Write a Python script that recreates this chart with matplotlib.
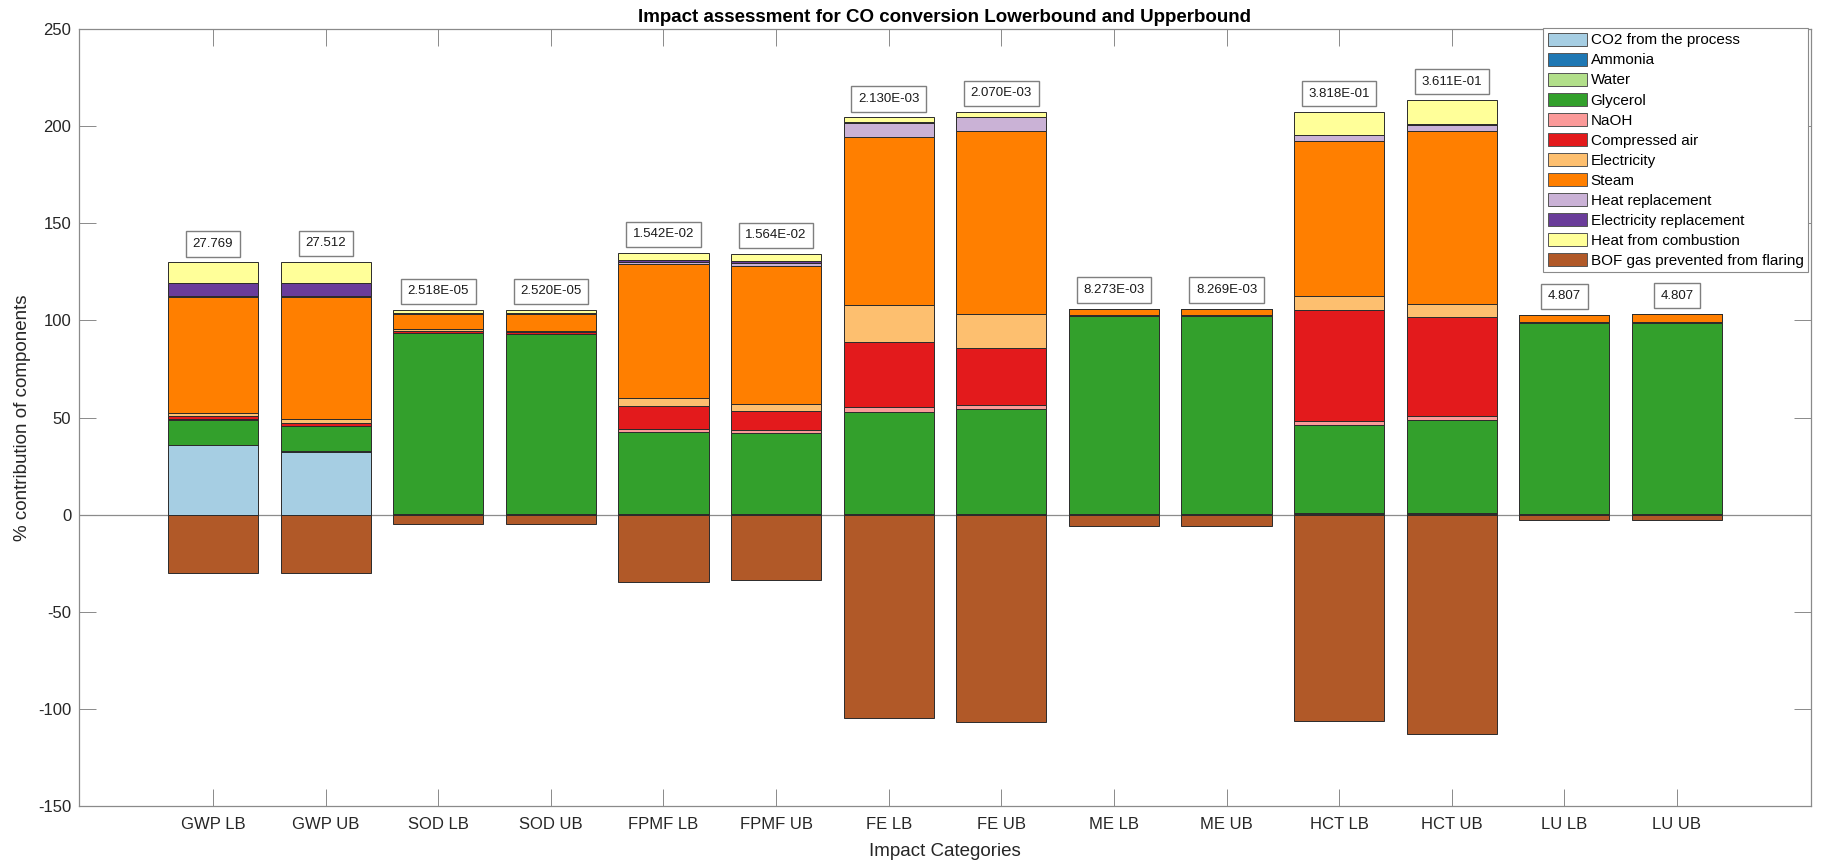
import matplotlib
matplotlib.use("Agg")
import matplotlib.pyplot as plt
import numpy as np

plt.rcParams['font.family'] = ['Liberation Sans', 'DejaVu Sans']
plt.rcParams['axes.unicode_minus'] = False

categories = ["GWP LB", "GWP UB", "SOD LB", "SOD UB", "FPMF LB", "FPMF UB",
              "FE LB", "FE UB", "ME LB", "ME UB", "HCT LB", "HCT UB", "LU LB", "LU UB"]

# Contribution of each component (%) per impact category
co2_process   = [35.6, 32.2, 0, 0, 0, 0, 0, 0, 0, 0, 0, 0, 0, 0]
ammonia       = [0.2, 0.3, 0.2, 0.2, 0.2, 0.2, 0.2, 0.2, 0.1, 0.1, 0.5, 0.5, 0.1, 0.1]
water         = [0.1, 0.1, 0.1, 0.1, 0.1, 0.1, 0.1, 0.1, 0.1, 0.1, 0.1, 0.1, 0.1, 0.1]
glycerol      = [12.9, 12.9, 93.1, 92.6, 42.4, 41.7, 52.7, 54.0, 102.1, 102.3, 45.7, 48.2, 98.5, 98.7]
naoh          = [0.3, 0.3, 0.3, 0.3, 1.5, 1.7, 2.4, 2.3, 0.2, 0.1, 1.7, 2.1, 0.1, 0.1]
compressed_air = [1.6, 1.4, 0.8, 0.8, 11.8, 9.9, 33.4, 29.3, 0.3, 0.1, 57.1, 50.6, 0.1, 0.1]
electricity   = [1.7, 1.8, 1.0, 0.7, 4.2, 3.5, 19.2, 17.4, 0.2, 0.2, 7.3, 7.0, 0.2, 0.2]
steam         = [59.6, 63.1, 7.6, 8.4, 68.8, 70.9, 86.5, 94.1, 2.6, 2.7, 79.9, 88.9, 3.6, 3.8]
heat_repl     = [0.5, 0.5, 0.3, 0.3, 1.2, 1.6, 7.0, 7.1, 0.1, 0.1, 3.0, 3.4, 0.1, 0.1]
elec_repl     = [6.5, 6.6, 0.5, 0.5, 0.8, 0.8, 0.4, 0.3, 0.3, 0.3, 0.2, 0.2, 0.0, 0.0]
heat_combust  = [10.8, 10.9, 1.5, 1.5, 3.9, 3.8, 2.6, 2.7, 0.1, 0.1, 11.7, 12.4, 0.1, 0.1]
bof_flaring   = [-29.8, -29.8, -4.8, -4.8, -34.5, -33.8, -104.5, -106.9, -6.0, -6.0,
                 -106.3, -112.9, -2.9, -2.6]

# Total impact score of each category
totals = [27.769, 27.512, 2.518e-05, 2.520e-05, 1.542e-02, 1.564e-02, 2.130e-03,
          2.070e-03, 8.273e-03, 8.269e-03, 3.818e-01, 3.611e-01, 4.807, 4.807]

labels = ["CO2 from the process", "Ammonia", "Water", "Glycerol", "NaOH",
          "Compressed air", "Electricity", "Steam", "Heat replacement",
          "Electricity replacement", "Heat from combustion",
          "BOF gas prevented from flaring"]
series = [co2_process, ammonia, water, glycerol, naoh, compressed_air, electricity,
          steam, heat_repl, elec_repl, heat_combust, bof_flaring]
colors = ["#a6cee3", "#1f78b4", "#b2df8a", "#33a02c", "#fb9a99", "#e31a1c",
          "#fdbf6f", "#ff7f00", "#cab2d6", "#6a3d9a", "#ffff99", "#b15928"]

W, H = 1827, 863
fig = plt.figure(figsize=(W / 100, H / 100), dpi=100)
ax = fig.add_axes([79 / W, 1 - 806 / H, (1811 - 79) / W, (806 - 29) / H])

x = np.arange(1, len(categories) + 1)
pos_base = np.zeros(len(x))
neg_base = np.zeros(len(x))
for vals, lab, col in zip(series, labels, colors):
    v = np.asarray(vals, dtype=float)
    bottoms = np.where(v >= 0, pos_base, neg_base)
    ax.bar(x, v, width=0.8, bottom=bottoms, color=col, edgecolor="#2b2b2b",
           linewidth=0.7, label=lab, zorder=2)
    pos_base += np.where(v >= 0, v, 0)
    neg_base += np.where(v < 0, v, 0)

ax.axhline(0, color="#8c8c8c", linewidth=0.9, zorder=1)

# Total score boxes above each stacked bar
for xi, top, tot in zip(x, pos_base, totals):
    txt = f"{tot:.3f}" if tot >= 1 else f"{tot:.3E}"
    ax.text(xi, top + 9.5, txt, ha="center", va="center", fontsize=9.5,
            color="#1a1a1a", zorder=4,
            bbox=dict(boxstyle="square,pad=0.5", facecolor="white",
                      edgecolor="#7f7f7f", linewidth=1.0))

ax.set_xlim(-0.19, 15.19)
ax.set_ylim(-150, 250)
ax.set_yticks(np.arange(-150, 251, 50))
ax.set_xticks(x)
ax.set_xticklabels(categories)

for sp in ax.spines.values():
    sp.set_color("#8a8a8a")
    sp.set_linewidth(0.9)
ax.tick_params(direction="in", length=12, width=0.7, color="#8a8a8a",
               labelsize=12, labelcolor="#262626", top=True, right=True)
ax.tick_params(axis="x", pad=8)
ax.tick_params(axis="y", pad=5.5)

ax.set_xlabel("Impact Categories", fontsize=13.5, color="#262626", labelpad=8)
ax.set_ylabel("% contribution of components", fontsize=13.5, color="#262626",
              labelpad=5)
ax.set_title("Impact assessment for CO conversion Lowerbound and Upperbound",
             fontsize=13.5, fontweight="bold", color="black", pad=5)

leg = ax.legend(loc="upper right", bbox_to_anchor=(1808 / W, 1 - 28 / H),
                bbox_transform=fig.transFigure, fontsize=11, frameon=True,
                fancybox=False, edgecolor="#8a8a8a", framealpha=1,
                borderaxespad=0, handlelength=2.6, handleheight=0.95,
                handletextpad=0.2, labelspacing=0.34, borderpad=0.3)
leg.get_frame().set_linewidth(0.8)
for h in leg.legend_handles:
    h.set_edgecolor("#555555")

fig.savefig("out.png", dpi=100, facecolor="white")
